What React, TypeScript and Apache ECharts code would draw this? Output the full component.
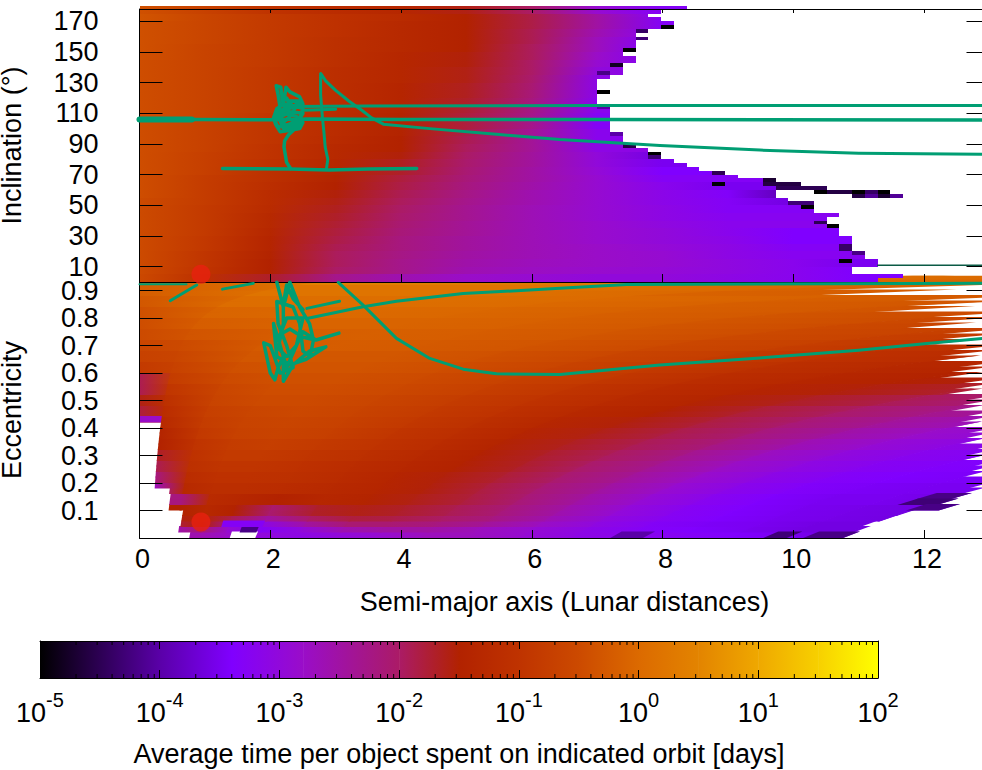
import React, { useEffect, useRef } from "react";
import * as echarts from "echarts";

const FONT = "Liberation Sans";
const GREEN = "#009e73";

const paletteValues = [-5, -4, -3.4, -2.8, -2, -1.5, -1, -0.5, 0, 0.5, 1, 1.5, 2];
const paletteColors = ["#000000", "#5a00a8", "#8000ff", "#9a0dc8", "#ab1b66", "#b22200", "#bf3300", "#cc4a00", "#dc6a00", "#e38400", "#efa800", "#f7d000", "#ffff00"];

const aTicks = [0, 2, 4, 6, 8, 10, 12];
const incTicks = [10, 30, 50, 70, 90, 110, 130, 150, 170];
const eccTicks = [0.1, 0.2, 0.3, 0.4, 0.5, 0.6, 0.7, 0.8, 0.9];
const barTicks = [-5, -4, -3, -2, -1, 0, 1, 2];

// Inclination panel: log10(days), rows of 5 degrees (from 0), one value per lunar distance (from 0)
const topValues = [
  [-.55, -1.1, -1.7, -2.3, -2.6, -2.8, -2.9, -3, -3, -3.1, -3.2, -3.4],
  [-.5, -1, -1.5, -2, -2.3, -2.6, -2.75, -2.85, -2.95, -3.05, -3.2, -3.4],
  [-.5, -.95, -1.5, -1.95, -2.3, -2.55, -2.7, -2.8, -2.9, -3.05, -3.2, -3.5],
  [-.5, -.95, -1.45, -1.95, -2.25, -2.5, -2.65, -2.8, -2.9, -3.1, -3.25],
  [-.5, -.9, -1.4, -1.9, -2.2, -2.45, -2.65, -2.8, -2.95, -3.1, -3.3],
  [-.5, -.9, -1.4, -1.85, -2.2, -2.45, -2.65, -2.85, -3, -3.15, -3.4],
  [-.5, -.85, -1.35, -1.8, -2.15, -2.4, -2.65, -2.85, -3, -3.2, -3.4],
  [-.5, -.85, -1.3, -1.75, -2.1, -2.4, -2.65, -2.85, -3.05, -3.2],
  [-.5, -.85, -1.3, -1.7, -2.05, -2.35, -2.65, -2.9, -3.1, -3.25],
  [-.5, -.85, -1.25, -1.65, -2, -2.35, -2.65, -2.9, -3.1, -3.3],
  [-.5, -.8, -1.2, -1.6, -1.95, -2.3, -2.6, -2.9, -3.15, -3.3, -3.6],
  [-.45, -.8, -1.2, -1.55, -1.9, -2.25, -2.6, -2.9, -3.15, -3.35, -4, -4.4],
  [-.45, -.8, -1.15, -1.5, -1.85, -2.2, -2.55, -2.9, -3.2, -3.5],
  [-.45, -.8, -1.1, -1.45, -1.8, -2.15, -2.5, -2.9, -3.3],
  [-.45, -.75, -1.1, -1.4, -1.7, -2.1, -2.5, -2.95, -3.4],
  [-.45, -.75, -1.05, -1.35, -1.65, -2.05, -2.45, -3, -3.5],
  [-.45, -.75, -1, -1.3, -1.55, -2, -2.45, -3, -3.6],
  [-.45, -.7, -1, -1.3, -1.5, -1.95, -2.4, -3.1],
  [-.45, -.7, -.95, -1.25, -1.5, -1.9, -2.4, -3.2],
  [-.45, -.7, -.95, -1.2, -1.45, -1.85, -2.4, -3.2],
  [-.45, -.7, -.95, -1.2, -1.45, -1.8, -2.3, -3.3],
  [-.45, -.65, -.95, -1.2, -1.45, -1.8, -2.3, -3.3],
  [-.45, -.65, -.9, -1.2, -1.4, -1.75, -2.25, -3.2],
  [-.45, -.65, -.9, -1.15, -1.4, -1.7, -2.2, -3.2],
  [-.45, -.65, -.9, -1.15, -1.4, -1.65, -2.15, -3.15],
  [-.45, -.65, -.9, -1.15, -1.4, -1.65, -2.1, -3.1],
  [-.45, -.65, -.9, -1.15, -1.35, -1.6, -2.05, -3.1, -3.3],
  [-.45, -.65, -.9, -1.15, -1.35, -1.6, -2, -3, -3.3],
  [-.45, -.65, -.85, -1.1, -1.35, -1.55, -2, -2.9, -3.3],
  [-.4, -.65, -.85, -1.1, -1.35, -1.55, -1.95, -2.8, -3.4],
  [-.4, -.65, -.85, -1.1, -1.3, -1.5, -1.95, -2.7, -3.5],
  [-.4, -.6, -.85, -1.1, -1.3, -1.5, -1.9, -2.7, -3.4],
  [-.4, -.6, -.85, -1.05, -1.3, -1.5, -1.9, -2.6, -3.3],
  [-.4, -.6, -.85, -1.05, -1.3, -1.5, -1.85, -2.5, -3.3],
  [-.35, -.6, -.85, -1.05, -1.25, -1.5, -1.85, -2.5, -3.3],
  [-.4, -.7, -1, -1.2, -1.35, -1.6, -2, -2.9, -3.3],
];

// Largest semi-major axis of each 2.5 degree row, from the bottom
const topRowEnds = [
  11.29, 11.67, 10.9, 10.9, 11.29, 11.29, 11.09, 11.09, 10.9, 10.9, 10.9, 10.9,
  10.7, 10.7, 10.7, 10.51, 10.51, 10.7, 10.31, 10.31, 10.31, 9.92, 9.73, 9.73,
  9.73, 9.73, 9.54, 9.15, 8.95, 8.56, 8.37, 8.17, 7.97, 7.97, 7.78, 7.59,
  7.39, 7.39, 7.39, 7.19, 7.19, 7.19, 7.19, 7.19, 7.19, 7.19, 7.0, 7.0,
  7.0, 7.19, 7.0, 7.0, 7.0, 7.19, 7.39, 7.39, 7.39, 7.59, 7.59, 7.39,
  7.59, 7.59, 7.59, 7.78, 7.59, 7.78, 8.17, 8.17, 7.97, 7.78, 7.97, 8.37,
];

// Sparse dark cells at the fringe: [a from, a to, row index, log10(days)]
const topFringe = [
  [7.97, 8.17, 66, -5], [7.39, 7.59, 60, -5], [7.19, 7.39, 56, -4.8], [7, 7.19, 54, -4.2],
  [7, 7.19, 49, -5], [7, 7.19, 45, -4], [7.19, 7.39, 38, -4], [7.39, 7.59, 35, -4.6],
  [7.78, 7.97, 33, -5], [7.78, 7.97, 32, -4.3], [8.75, 8.95, 28, -4.5], [8.75, 8.95, 25, -5],
  [9.54, 9.73, 26, -4.7], [9.54, 9.73, 25, -4.6], [9.73, 10.12, 25, -4.6], [9.73, 10.51, 24, -4.5],
  [10.31, 10.51, 23, -5], [10.51, 10.9, 23, -4.6], [10.9, 11.09, 23, -5], [11.09, 11.29, 23, -4.4],
  [11.29, 11.48, 23, -5], [10.9, 11.09, 22, -4.6], [11.09, 11.29, 22, -4.1], [11.29, 11.48, 22, -4.7],
  [11.48, 11.67, 22, -4.1], [10.12, 10.31, 19, -5], [9.92, 10.31, 20, -4.3], [10.51, 10.7, 14, -5],
  [10.31, 10.51, 15, -4.5], [10.7, 10.9, 9, -4.4], [10.7, 10.9, 8, -4.4], [10.9, 11.09, 7, -4.2],
  [10.7, 10.9, 5, -5], [7.59, 7.78, 65, -4.4], [7.59, 7.78, 63, -4.3],
];

// Eccentricity panel: perihelion-like bins, log10(days)
const qNodes = [0, .19, .55, .9, 1.3, 1.8, 2.4, 3, 3.6, 4.3, 5, 5.8, 6.6, 7.4, 8.2, 9, 9.8, 10.6, 11.2];
const eRows = [0, .02, .04, .06, .08, .12, .16, .2, .24, .28, .32, .36, .4, .44, .48, .52, .56, .6, .64, .68, .72, .76, .8, .84, .88, .92];
const bottomValues = [
  [-2.6, -2.6, -2.6, -2.6, -2.8, -3, -3.1, -3, -2.9, -2.7, -2.7, -2.9, -3.1, -3.2, -3.3, -3.4, -3.5, -3.6],
  [-2.6, -2.6, -2.6, -2.1, -2.9, -3.3, -3, -2.6, -2.5, -2.5, -2.7, -2.9, -3.1, -3.3, -3.4, -3.5, -3.6, -3.6],
  [-1.8, -1.8, -1.8, -1.5, -2.4, -3.1, -2.5, -2.1, -2.1, -2.2, -2.4, -2.75, -3.05, -3.3, -3.45, -3.5, -3.6, -3.6],
  [-1.6, -1.6, -1.6, -1.4, -1.9, -2.5, -2, -1.8, -1.85, -2, -2.2, -2.6, -3, -3.25, -3.4, -3.5, -3.55, -3.6],
  [-1.5, -1.5, -1.5, -1.3, -1.5, -2.1, -1.7, -1.6, -1.7, -1.9, -2.15, -2.55, -2.95, -3.25, -3.4, -3.5, -3.55, -3.6],
  [-2.2, -2.2, -2.2, -1.25, -1.35, -1.5, -1.35, -1.45, -1.6, -1.8, -2.1, -2.5, -2.9, -3.2, -3.4, -3.5, -3.5, -3.6],
  [-2.7, -2.7, -1.3, -1.15, -1.15, -1.2, -1.3, -1.4, -1.55, -1.8, -2.1, -2.45, -2.85, -3.15, -3.35, -3.45, -3.5, -3.5],
  [-2.2, -2.2, -1.2, -1.05, -1.05, -1.1, -1.25, -1.4, -1.55, -1.75, -2.05, -2.4, -2.8, -3.1, -3.3, -3.4, -3.45],
  [-1.9, -1.9, -1.1, -.95, -.95, -1.05, -1.2, -1.35, -1.5, -1.7, -2, -2.35, -2.75, -3.05, -3.25, -3.35, -3.4],
  [-1.7, -1.7, -1.05, -.85, -.85, -.95, -1.1, -1.3, -1.5, -1.7, -1.95, -2.3, -2.7, -3, -3.2, -3.3],
  [-1.5, -1.5, -1, -.8, -.75, -.85, -1, -1.2, -1.45, -1.65, -1.9, -2.2, -2.6, -2.9, -3.1, -3.2],
  [-1.45, -1.45, -.9, -.7, -.65, -.75, -.95, -1.15, -1.4, -1.6, -1.85, -2.15, -2.5, -2.8, -3],
  [-1.3, -1.3, -.8, -.65, -.6, -.7, -.9, -1.1, -1.35, -1.55, -1.8, -2.1, -2.4, -2.7, -2.9],
  [-1.8, -1.2, -.75, -.6, -.55, -.65, -.85, -1.05, -1.3, -1.5, -1.75, -2, -2.3, -2.55],
  [-1.6, -1.1, -.65, -.5, -.5, -.6, -.8, -1, -1.25, -1.45, -1.65, -1.9, -2.2, -2.4],
  [-1.9, -.95, -.6, -.45, -.45, -.55, -.75, -.95, -1.2, -1.4, -1.55, -1.75, -2],
  [-1.9, -.8, -.5, -.4, -.4, -.5, -.7, -.9, -1.15, -1.35, -1.5, -1.6, -1.75],
  [-.85, -.7, -.4, -.35, -.35, -.45, -.65, -.85, -1.1, -1.3, -1.45, -1.55],
  [-.7, -.6, -.3, -.3, -.3, -.4, -.6, -.8, -1.05, -1.25, -1.4, -1.5],
  [-.6, -.5, -.25, -.2, -.25, -.35, -.55, -.75, -1, -1.2, -1.35],
  [-.5, -.35, -.2, -.15, -.2, -.3, -.5, -.7, -.95, -1.15],
  [-.45, -.2, -.1, -.1, -.15, -.3, -.5, -.75, -.95],
  [-.4, -.1, 0, -.05, -.15, -.3, -.55, -.8],
  [-.3, .05, .1, 0, -.15, -.35, -.55],
  [-.2, .2, .2, -.1, -.3, -.45],
  [-.2, .45, .15, -.2, -.4],
];

// Row limits in bins: one entry per 0.02 of eccentricity, from the bottom
const rowStartQ = [.76, .58, .6, .6, .6, .4, .4, .4, .38, .19, .19, .19, .19, .19, .19, .19, .19, .19, .19, .19, .19, 0, 0, 0, 0, 0, 0, 0, 0, 0, 0, 0, 0, 0, 0, 0, 0, 0, 0, 0, 0, 0, 0, 0, 0, 0, 0, 0];
const rowEndQ = [10.76, 10.7, 10.58, 10.64, 10.65, 11, 10.73, 10.65, 10.56, 10.39, 10.28, 9.8, 9.63, 9.43, 9.02, 8.86, 8.67, 8.25, 8.05, 7.84, 7.43, 7.26, 7.05, 6.68, 6.5, 6.31, 5.89, 5.71, 5.5, 5.12, 4.92, 4.74, 4.32, 4.14, 3.93, 3.57, 3.39, 3.17, 2.77, 2.59, 2.38, 2, 1.81, 1.61, 1.206, 1.02, .97, 1.2];

// Patches in the eccentricity panel: [bin from, bin to, row index, log10(days) or null for empty]
const bottomPatches = [
  [0, .19, 21, -2.8], [1.38, 1.77, 0, null], [1.5, 1.75, 1, -4.2], [1.2, 1.8, 2, -3.3],
  [10.2, 10.65, 7, -4.2], [10.2, 10.73, 6, -4.3], [10.55, 11, 5, -4.2],
  [7.2, 7.7, 0, -4], [9.54, 9.9, 0, -4.3], [10.15, 10.76, 0, -4.2],
];

const dotA = [0.94];
const dotInc = [5];
const dotEcc = [0.058];

const topLong1 = [[.8, 106], [2, 105.8], [2.6, 106.3], [4, 106], [7, 105.9], [13, 105.6]];
const topThick = [[0, 105.9], [.8, 105.9]];
const topLong2 = [[2.3, 114.5], [3.5, 114.7], [7, 115], [13, 115]];
const topStub = [[2.5, 112], [3, 112.7]];
const topCross = [[1.27, 74], [2.3, 73.7], [2.9, 73], [3.5, 73.6], [4.24, 74]];
const topFaint = [[11.29, 11], [13, 11]];
const topPeak = [[2.86, 74], [2.88, 80], [2.84, 88], [2.82, 98], [2.8, 106], [2.77, 122], [2.77, 136], [2.85, 131], [3, 125], [3.2, 118], [3.4, 112], [3.55, 107], [3.73, 102.9], [4.44, 100], [5.46, 96.3], [6.43, 92.9], [7.96, 89], [9.49, 86], [11, 84], [13, 83.2]];
const topTangle = [[2.31, 74], [2.25, 78], [2.21, 88], [2.22, 92], [2.28, 96], [2.38, 100], [2.5, 104], [2.45, 100], [2.3, 99], [2.15, 98], [2.08, 103], [2.05, 107], [2.1, 113], [2.2, 116], [2.35, 115], [2.5, 113], [2.45, 107], [2.3, 103], [2.12, 101], [2.06, 106], [2.2, 110], [2.4, 108], [2.48, 104], [2.3, 100], [2.15, 105], [2.18, 112], [2.35, 118], [2.45, 116], [2.12, 110], [2.1, 106], [2.3, 111], [2.5, 110], [2.4, 103], [2.2, 100], [2.12, 108], [2.15, 114], [2.12, 122], [2.09, 128], [2.16, 127], [2.2, 115], [2.24, 127], [2.3, 124], [2.45, 120.7], [2.5, 116], [2.45, 114], [2.3, 114.5], [2.25, 120], [2.28, 118], [2.45, 118], [2.3, 108], [2.2, 104]];

const botCurve = [[3.04, .93], [3.42, .847], [3.93, .726], [4.44, .653], [4.95, .614], [5.46, .597], [6.43, .595], [7.96, .629], [9.49, .655], [11, .683], [12.04, .707], [13, .728]];
const botUpper = [[2.56, .798], [3.42, .841], [3.93, .861], [4.95, .889], [6.43, .908], [7.45, .922], [13, .927]];
const botStub1 = [[2.56, .835], [3.06, .861]];
const botLeft1 = [[0, .923], [.72, .923]];
const botLeft2 = [[.47, .863], [.875, .92]];
const botLeft3 = [[1.27, .905], [1.74, .926]];
const botTangle = [[2.1, .93], [2.2, .84], [2.3, .93], [2.45, .84], [2.6, .78], [2.66, .72], [2.61, .66], [2.5, .68], [2.45, .78], [2.35, .84], [2.1, .86], [2.12, .78], [2.25, .7], [2.35, .62], [2.15, .6], [2, .7], [1.9, .71], [2, .6], [2.07, .575], [2.12, .62], [2.2, .66], [2.2, .57], [2.35, .63], [2.6, .68], [2.85, .695], [2.55, .65], [2.3, .63], [2.1, .66], [2.05, .78], [2.1, .74], [2.25, .62], [2.4, .7], [2.5, .75], [2.7, .72], [3.05, .745], [2.7, .72], [2.5, .73], [2.3, .76], [2.15, .74], [2.25, .8], [2.5, .8], [2.4, .7], [2.25, .66], [2.12, .69], [2.2, .78], [2.2, .85], [2.25, .92], [2.35, .87], [2.5, .83]];

const hex = (c: string) => [1, 3, 5].map((i) => parseInt(c.slice(i, i + 2), 16));
function colorOf(v: number | null) {
  if (v === null) return "#ffffff";
  const x = Math.max(-5, Math.min(2, v));
  let i = 0;
  while (i < paletteValues.length - 2 && x > paletteValues[i + 1]) i++;
  const t = (x - paletteValues[i]) / (paletteValues[i + 1] - paletteValues[i]);
  const a = hex(paletteColors[i]);
  const b = hex(paletteColors[i + 1]);
  return "rgb(" + a.map((u, j) => Math.round(u + (b[j] - u) * t)).join(",") + ")";
}
const fillOf = (v0: number | null, v1: number | null) =>
  v0 === v1 || v0 === null || v1 === null
    ? colorOf(v0)
    : new echarts.graphic.LinearGradient(0, 0, 1, 0, [
        { offset: 0, color: colorOf(v0) },
        { offset: 1, color: colorOf(v1) },
      ]);

function rowValue(row: number[], nodes: (i: number) => number, x: number) {
  let i = 0;
  while (i < row.length - 2 && x > nodes(i + 1)) i++;
  if (row.length === 1 || x >= nodes(row.length - 1)) return row[row.length - 1];
  const t = (x - nodes(i)) / (nodes(i + 1) - nodes(i));
  return row[i] + (row[i + 1] - row[i]) * t;
}

function buildTopCells() {
  const out: any[] = [];
  topRowEnds.forEach((end, k) => {
    const row = topValues[Math.floor(k / 2)];
    for (let i = 0; i < 13 && i < end; i++) {
      const x1 = Math.min(i + 1, end);
      out.push([i, x1, k * 2.5, k * 2.5 + 2.5, rowValue(row, (n) => n, i), rowValue(row, (n) => n, x1)]);
    }
  });
  topFringe.forEach(([a0, a1, k, v]) => out.push([a0, a1, k * 2.5, k * 2.5 + 2.5, v, v]));
  return out;
}

function buildBottomCells() {
  const out: any[] = [];
  const nodeAt = (n: number) => qNodes[n];
  rowEndQ.forEach((end, k) => {
    const start = rowStartQ[k];
    let r = 0;
    while (r < eRows.length - 1 && k * 0.02 >= eRows[r + 1] - 1e-9) r++;
    const row = bottomValues[r];
    const e0 = k * 0.02;
    const e1 = k === 47 ? 0.95 : e0 + 0.02;
    for (let i = 0; i < qNodes.length - 1; i++) {
      const q0 = Math.max(qNodes[i], start);
      const q1 = Math.min(qNodes[i + 1], end);
      if (q1 <= q0) continue;
      out.push([q0, q1, e0, e1, rowValue(row, nodeAt, q0), rowValue(row, nodeAt, q1), q1 < end ? 1 : 0]);
    }
  });
  bottomPatches.forEach(([q0, q1, k, v]: any) => out.push([q0, q1, k * 0.02, k * 0.02 + 0.02, v, v, 0]));
  return out;
}

const renderTopCell = (_: any, api: any) => {
  const p0 = api.coord([api.value(0), api.value(3)]);
  const p1 = api.coord([api.value(1), api.value(2)]);
  const x = Math.round(p0[0]);
  const y = Math.round(p0[1]);
  return {
    type: "rect",
    shape: { x, y, width: Math.max(1, Math.round(p1[0]) - x), height: Math.max(1, Math.round(p1[1]) - y) },
    style: { fill: fillOf(api.value(4), api.value(5)) },
  };
};

const renderBottomCell = (params: any, api: any) => {
  const c = bottomCells[params.dataIndex];
  const [q0, q1raw, e0, e1raw, v0, v1, inner] = c;
  const q1 = q1raw + (inner ? 0.03 : 0);
  const e1 = e1raw + 0.0035;
  const pts = [
    [q0 / (1 - e0), e0],
    [q1 / (1 - e0), e0],
    [q1 / (1 - e1), e1],
    [q0 / (1 - e1), e1],
  ].map((p) => api.coord(p));
  return { type: "polygon", shape: { points: pts }, style: { fill: fillOf(v0, v1) } };
};

const bottomCells = buildBottomCells();
const topCells = buildTopCells();

const lineSeries = (data: number[][], panel: number, width = 3, color = GREEN) => ({
  type: "line",
  data,
  xAxisIndex: panel === 0 ? 0 : 2,
  yAxisIndex: panel === 0 ? 0 : 2,
  symbol: "none",
  showSymbol: false,
  silent: true,
  z: 6,
  lineStyle: { color, width, join: "round", cap: "round" },
});

const blackLine = { show: true, onZero: false, lineStyle: { color: "#000", width: 1 } };

export default function App() {
  const ref = useRef<HTMLDivElement>(null);
  useEffect(() => {
    const chart = echarts.init(ref.current!, undefined, { renderer: "svg" });
    const minorBar: number[][] = [];
    barTicks.slice(0, -1).forEach((d) => {
      [2, 3, 4, 5, 6, 7, 8, 9].forEach((m) => minorBar.push([d + Math.log10(m)]));
    });
    const barSegments = paletteValues.slice(0, -1).map((v, i) => [v, paletteValues[i + 1], paletteColors[i], paletteColors[i + 1]]);
    const xBase = { type: "value", min: 0, max: 13, z: 5, splitLine: { show: false }, axisLine: blackLine };
    const tickStyle = { color: "#000", width: 1 };
    const labelStyle = { fontFamily: FONT, fontSize: 27, color: "#000" };
    chart.setOption({
      animation: false,
      backgroundColor: "#fff",
      grid: [
        { left: 139.5, top: 9, width: 850, height: 273, outerBoundsMode: "none", containLabel: false },
        { left: 139.5, top: 282, width: 850, height: 256, outerBoundsMode: "none", containLabel: false },
        { left: 40, top: 641, width: 838, height: 37, outerBoundsMode: "none", containLabel: false },
      ],
      xAxis: [
        { ...xBase, gridIndex: 0, position: "bottom", axisLabel: { show: false }, axisTick: { inside: true, length: 8, lineStyle: tickStyle, customValues: aTicks.slice(1) } },
        { ...xBase, gridIndex: 0, position: "top", axisLabel: { show: false }, axisTick: { inside: true, length: 4, lineStyle: tickStyle, customValues: aTicks.slice(1) } },
        {
          ...xBase, gridIndex: 1, position: "bottom",
          axisLabel: { ...labelStyle, margin: 7, padding: [0, 0, 0, 6], customValues: aTicks },
          axisTick: { inside: true, length: 8, lineStyle: tickStyle, customValues: aTicks.slice(1) },
          name: "Semi-major axis (Lunar distances)", nameLocation: "middle", nameGap: 50,
          nameTextStyle: labelStyle,
        },
        { ...xBase, gridIndex: 1, position: "top", axisLabel: { show: false }, axisTick: { show: false } },
        {
          type: "value", gridIndex: 2, min: -5, max: 2, interval: 1, position: "bottom", z: 5,
          splitLine: { show: false }, axisLine: blackLine,
          axisTick: { inside: true, length: 8, lineStyle: tickStyle },
          axisLabel: {
            margin: 12,
            formatter: (v: number) => "{a|10}{b|" + v + "}",
            rich: {
              a: { fontFamily: FONT, fontSize: 27, color: "#000", lineHeight: 36, verticalAlign: "bottom" },
              b: { fontFamily: FONT, fontSize: 20, color: "#000", lineHeight: 36, verticalAlign: "top" },
            },
          },
          name: "Average time per object spent on indicated orbit [days]", nameLocation: "middle", nameGap: 62,
          nameTextStyle: labelStyle,
        },
        {
          type: "value", gridIndex: 2, min: -5, max: 2, interval: 1, position: "top", z: 5,
          splitLine: { show: false }, axisLine: blackLine, axisLabel: { show: false },
          axisTick: { inside: true, length: 8, lineStyle: tickStyle },
        },
      ],
      yAxis: [
        {
          type: "value", gridIndex: 0, min: 0, max: 178, position: "left", z: 5, splitLine: { show: false }, axisLine: blackLine,
          axisTick: { inside: true, length: 23, lineStyle: tickStyle, customValues: incTicks },
          axisLabel: { ...labelStyle, margin: 41, customValues: incTicks },
          name: "Inclination (°)", nameLocation: "middle", nameGap: 114, nameTextStyle: labelStyle,
        },
        {
          type: "value", gridIndex: 0, min: 0, max: 178, position: "right", z: 5, splitLine: { show: false }, axisLine: blackLine,
          axisTick: { inside: true, length: 23, lineStyle: tickStyle, customValues: incTicks },
          axisLabel: { show: false },
        },
        {
          type: "value", gridIndex: 1, min: 0, max: 0.931, position: "left", z: 5, splitLine: { show: false }, axisLine: blackLine,
          axisTick: { inside: true, length: 23, lineStyle: tickStyle, customValues: eccTicks },
          axisLabel: { ...labelStyle, margin: 41, customValues: eccTicks, formatter: (v: number) => v.toFixed(1) },
          name: "Eccentricity", nameLocation: "middle", nameGap: 114, nameTextStyle: labelStyle,
        },
        {
          type: "value", gridIndex: 1, min: 0, max: 0.931, position: "right", z: 5, splitLine: { show: false }, axisLine: blackLine,
          axisTick: { inside: true, length: 23, lineStyle: tickStyle, customValues: eccTicks },
          axisLabel: { show: false },
        },
        {
          type: "value", gridIndex: 2, min: 0, max: 1, position: "left", z: 5, splitLine: { show: false }, axisLine: blackLine,
          axisTick: { show: false }, axisLabel: { show: false },
        },
        {
          type: "value", gridIndex: 2, min: 0, max: 1, position: "right", z: 5, splitLine: { show: false }, axisLine: blackLine,
          axisTick: { show: false }, axisLabel: { show: false },
        },
      ],
      series: [
        { type: "custom", data: bottomCells, xAxisIndex: 2, yAxisIndex: 2, renderItem: renderBottomCell, clip: false, silent: true, z: 1 },
        { type: "custom", data: topCells, xAxisIndex: 0, yAxisIndex: 0, renderItem: renderTopCell, clip: false, silent: true, z: 2 },
        lineSeries(topFaint, 0, 1.5, "#0b5a45"),
        lineSeries(topThick, 0, 6),
        lineSeries(topLong1, 0, 3.5),
        lineSeries(topLong2, 0, 3),
        lineSeries(topStub, 0, 3),
        lineSeries(topCross, 0, 3.5),
        lineSeries(topPeak, 0, 3),
        lineSeries(topTangle, 0, 3.5),
        lineSeries(botCurve, 1, 3),
        lineSeries(botUpper, 1, 3),
        lineSeries(botStub1, 1, 3),
        lineSeries(botLeft1, 1, 2),
        lineSeries(botLeft2, 1, 3),
        lineSeries(botLeft3, 1, 3),
        lineSeries(botTangle, 1, 3.5),
        {
          type: "scatter", data: dotA.map((a, i) => [a, dotInc[i]]), xAxisIndex: 0, yAxisIndex: 0, symbolSize: 19, silent: true, z: 7,
          itemStyle: { color: "#e8200f" },
        },
        {
          type: "scatter", data: dotA.map((a, i) => [a, dotEcc[i]]), xAxisIndex: 2, yAxisIndex: 2, symbolSize: 19, silent: true, z: 7,
          itemStyle: { color: "#e8200f" },
        },
        {
          type: "custom", data: barSegments, xAxisIndex: 4, yAxisIndex: 4, silent: true, z: 2,
          renderItem: (params: any, api: any) => {
            const s = barSegments[params.dataIndex];
            const p0 = api.coord([s[0], 1]);
            const p1 = api.coord([s[1], 0]);
            return {
              type: "rect",
              shape: { x: p0[0], y: p0[1], width: p1[0] - p0[0] + 0.5, height: p1[1] - p0[1] },
              style: { fill: new echarts.graphic.LinearGradient(0, 0, 1, 0, [{ offset: 0, color: s[2] }, { offset: 1, color: s[3] }]) },
            };
          },
        },
        {
          type: "custom", data: minorBar, xAxisIndex: 4, yAxisIndex: 4, silent: true, z: 6,
          renderItem: (_: any, api: any) => {
            const t = api.coord([api.value(0), 1]);
            const b = api.coord([api.value(0), 0]);
            return {
              type: "group",
              children: [
                { type: "line", shape: { x1: t[0], y1: t[1], x2: t[0], y2: t[1] + 4 }, style: { stroke: "#000", lineWidth: 1 } },
                { type: "line", shape: { x1: b[0], y1: b[1], x2: b[0], y2: b[1] - 4 }, style: { stroke: "#000", lineWidth: 1 } },
              ],
            };
          },
        },
      ],
    });
    return () => chart.dispose();
  }, []);
  return <div ref={ref} style={{ position: "fixed", left: 0, top: 0, width: 982, height: 770 }} />;
}
